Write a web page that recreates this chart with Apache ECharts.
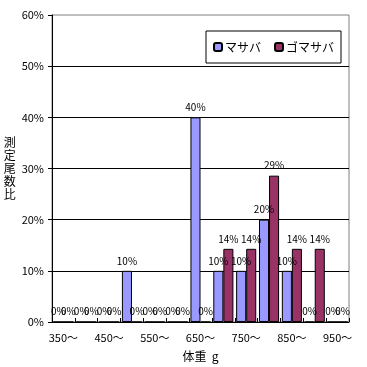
<!DOCTYPE html>
<html><head><meta charset="utf-8">
<script src="https://cdn.jsdelivr.net/npm/echarts@6/dist/echarts.min.js"></script>
<style>html,body{margin:0;padding:0;background:#fff}#c{width:367px;height:367px}</style>
</head><body><div id="c"></div>
<script>
const categories = ['350〜','400〜','450〜','500〜','550〜','600〜','650〜','700〜','750〜','800〜','850〜','900〜','950〜'];
const seriesNames = ['マサバ','ゴマサバ'];
const masaba = [0,0,0,10,0,0,40,10,10,20,10,0,0];
const gomasaba = [0,0,0,0,0,0,0,14.3,14.3,28.6,14.3,14.3,0];
const yTicks = [0,10,20,30,40,50,60];

const FONT = '"Noto Sans CJK JP", "Noto Sans", sans-serif';
const chart = echarts.init(document.getElementById('c'), null, {renderer:'canvas'});
const lbl = {show:true, position:'top', distance:5, color:'#000', fontSize:10, fontFamily:FONT,
  formatter: p => Math.round(p.value) + '%'};
chart.setOption({
  animation:false,
  backgroundColor:'#fff',
  textStyle:{fontFamily:FONT},
  grid:{left:52, right:18, top:15, bottom:44, show:true, borderColor:'#808080', borderWidth:1, backgroundColor:'#fff'},
  legend:{
    data:seriesNames, left:206, top:31, orient:'horizontal',
    itemWidth:8, itemHeight:8, itemGap:13,
    borderColor:'#000', borderWidth:1, padding:[10,7,10,7],
    textStyle:{fontSize:12, color:'#000', fontFamily:FONT, padding:[0,0,0,-2]}
  },
  xAxis:{
    type:'category', data:categories,
    name:'体重  g', nameLocation:'middle', nameGap:28,
    nameTextStyle:{fontSize:12, color:'#000', fontFamily:FONT},
    axisLine:{lineStyle:{color:'#000', width:1}},
    axisTick:{show:true, interval:0, inside:true, length:4, lineStyle:{color:'#000'}},
    axisLabel:{interval:1, color:'#000', fontSize:11, margin:10, fontFamily:FONT},
    splitLine:{show:false}
  },
  yAxis:{
    type:'value', min:yTicks[0], max:yTicks[yTicks.length-1], interval:10,
    name:'測\n定\n尾\n数\n比', nameLocation:'middle', nameRotate:0, nameGap:31,
    nameTextStyle:{fontSize:12, color:'#000', fontFamily:FONT, lineHeight:13},
    axisLine:{show:true, lineStyle:{color:'#000', width:1}},
    axisTick:{show:true, length:4, lineStyle:{color:'#000'}},
    axisLabel:{color:'#000', fontSize:11, margin:8, formatter:'{value}%', fontFamily:FONT},
    splitLine:{show:true, showMaxLine:false, lineStyle:{color:'#000', width:1}}
  },
  series:[
    {name:seriesNames[0], type:'bar', data:masaba, barGap:'0%', barCategoryGap:'12%',
     itemStyle:{color:'#9999FF', borderColor:'#000', borderWidth:1}, label:lbl},
    {name:seriesNames[1], type:'bar', data:gomasaba, barGap:'0%', barCategoryGap:'12%',
     itemStyle:{color:'#993366', borderColor:'#000', borderWidth:1}, label:lbl}
  ]
});
</script></body></html>
